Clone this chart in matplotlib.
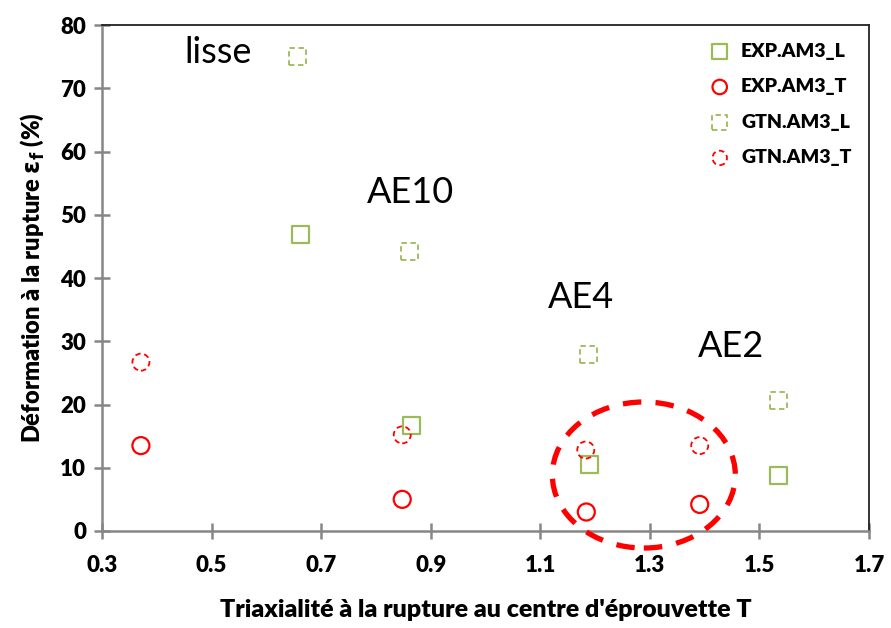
import matplotlib.pyplot as plt
from matplotlib.patches import Ellipse

# data
exp_l_x = [0.662, 0.865, 1.190, 1.534]
exp_l_y = [46.9, 16.7, 10.5, 8.7]
exp_t_x = [0.371, 0.848, 1.184, 1.391]
exp_t_y = [13.5, 5.0, 3.0, 4.2]
gtn_l_x = [0.656, 0.861, 1.188, 1.534]
gtn_l_y = [75.0, 44.2, 27.9, 20.6]
gtn_t_x = [0.371, 0.848, 1.183, 1.391]
gtn_t_y = [26.7, 15.2, 12.8, 13.5]

labels = ['lisse', 'AE10', 'AE4', 'AE2']
label_x = [0.512, 0.863, 1.175, 1.449]
label_y = [75.7, 53.5, 37.0, 29.1]

x_ticks = [0.3, 0.5, 0.7, 0.9, 1.1, 1.3, 1.5, 1.7]
y_ticks = [0, 10, 20, 30, 40, 50, 60, 70, 80]

green = '#9BBB59'
red = '#FF0000'
axis_gray = '#868686'

plt.rcParams['font.family'] = ['Lato', 'DejaVu Sans']

fig = plt.figure(figsize=(8.91, 6.28), dpi=100)
ax = fig.add_axes([0.1145, 0.1545, 0.8608, 0.8055])

ms = 150
ax.scatter(exp_l_x, exp_l_y, s=ms, marker='s', facecolors='none',
           edgecolors=green, linewidths=1.6, label='EXP.AM3_L', zorder=3)
ax.scatter(exp_t_x, exp_t_y, s=ms, marker='o', facecolors='none',
           edgecolors=red, linewidths=1.6, label='EXP.AM3_T', zorder=3)
ax.scatter(gtn_l_x, gtn_l_y, s=ms, marker='s', facecolors='none',
           edgecolors=green, linewidths=1.3, linestyles=(0, (3, 2)),
           label='GTN.AM3_L', zorder=3)
ax.scatter(gtn_t_x, gtn_t_y, s=ms, marker='o', facecolors='none',
           edgecolors=red, linewidths=1.3, linestyles=(0, (3, 2)),
           label='GTN.AM3_T', zorder=3)

for txt, tx, ty in zip(labels, label_x, label_y):
    ax.text(tx, ty, txt, fontsize=26, ha='center', va='center')

# dashed ellipse around AE4 / AE2 points
ell = Ellipse((1.289, 8.85), 0.334, 23.1, fill=False, edgecolor=red,
              linewidth=3.8, linestyle=(0, (3.5, 2.7)), clip_on=False, zorder=4)
ax.add_patch(ell)

ax.set_xlim(0.3, 1.7)
ax.set_ylim(0, 80)
ax.set_xticks(x_ticks)
ax.set_xticklabels([f'{v:.1f}' for v in x_ticks])
ax.set_yticks(y_ticks)

for lab in ax.get_xticklabels() + ax.get_yticklabels():
    lab.set_fontweight('heavy')
    lab.set_fontsize(16)

ax.tick_params(axis='both', direction='inout', length=11, width=1.8,
               color=axis_gray)
ax.tick_params(axis='x', pad=12)
ax.tick_params(axis='y', pad=6)

for side in ['left', 'bottom']:
    ax.spines[side].set_color(axis_gray)
    ax.spines[side].set_linewidth(1.8)
for side in ['top', 'right']:
    ax.spines[side].set_color('#222222')
    ax.spines[side].set_linewidth(1.3)

ax.set_xlabel("Triaxialité à la rupture au centre d'éprouvette T",
              fontsize=18, fontweight='heavy', labelpad=16)
ax.set_ylabel(r'Déformation à la rupture $\mathbf{\varepsilon_f}$ (%)',
              fontsize=17, fontweight='heavy', labelpad=10)

ax.legend(loc='upper right', frameon=False,
          prop={'weight': 'heavy', 'size': 14}, handletextpad=0.1,
          labelspacing=0.95, borderaxespad=0.5, scatterpoints=1,
          markerscale=0.85)

fig.savefig('out.png', dpi=100)
